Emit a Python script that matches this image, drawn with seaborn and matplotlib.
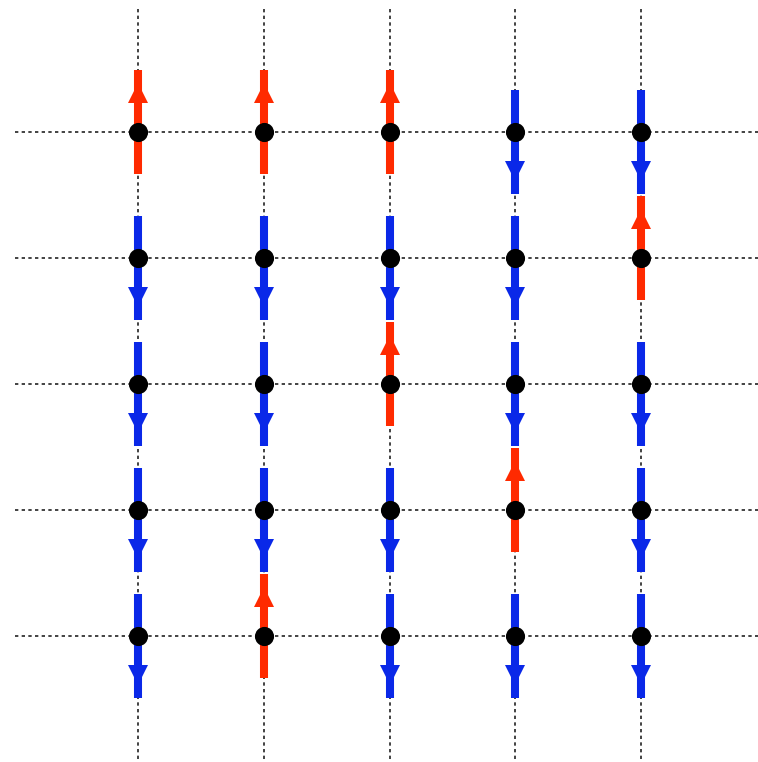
# 5x5 Ising spin lattice: red arrows spin up, blue arrows spin down
import numpy as np
import pandas as pd
import matplotlib
matplotlib.use("Agg")
import matplotlib.pyplot as plt
import seaborn as sns

# spin value per site, rows listed top to bottom (+1 up, -1 down)
row_0 = [1, 1, 1, -1, -1]
row_1 = [-1, -1, -1, -1, 1]
row_2 = [-1, -1, 1, -1, -1]
row_3 = [-1, -1, -1, 1, -1]
row_4 = [-1, 1, -1, -1, -1]
spin_rows = [row_0, row_1, row_2, row_3, row_4]

records = []
for r, row in enumerate(spin_rows):
    for c, s in enumerate(row):
        records.append({"x": c, "y": r, "spin": s})
df = pd.DataFrame(records)

sns.set_style("white")
fig = plt.figure(figsize=(7.58, 7.62), dpi=100)
ax = fig.add_axes([0, 0, 1, 1])

red = "#ff2a00"
blue = "#0a28e8"
n = len(spin_rows)

# dotted lattice lines
for k in range(n):
    ax.plot([-0.98, 5.2], [k, k], color="#222222", lw=1.2, dashes=(2, 2), zorder=1)
    ax.plot([k, k], [-0.98, 5.2], color="#222222", lw=1.2, dashes=(2, 2), zorder=1)

# spin arrows: shaft plus a triangular head
for _, p in df.iterrows():
    x, y, s = p["x"], p["y"], p["spin"]
    color = red if s > 0 else blue
    # y axis points down, so "up" means smaller y
    tip = y - 0.49 * s
    tail = y + 0.33 * s
    ax.plot([x, x], [tail, tip], color=color, lw=5.8, solid_capstyle="butt", zorder=2)
    ax.plot(x, y - 0.31 * s, marker="^" if s > 0 else "v", color=color,
            markersize=15, markeredgewidth=0, zorder=3)

# lattice sites
sns.scatterplot(data=df, x="x", y="y", color="black", s=190, linewidth=0,
                ax=ax, zorder=4, legend=False)

ax.set_xlim(-138 / 125.75, 620 / 125.75)
ax.set_ylim(5.0, -132 / 126)
ax.axis("off")

plt.savefig("out.png", dpi=100)
